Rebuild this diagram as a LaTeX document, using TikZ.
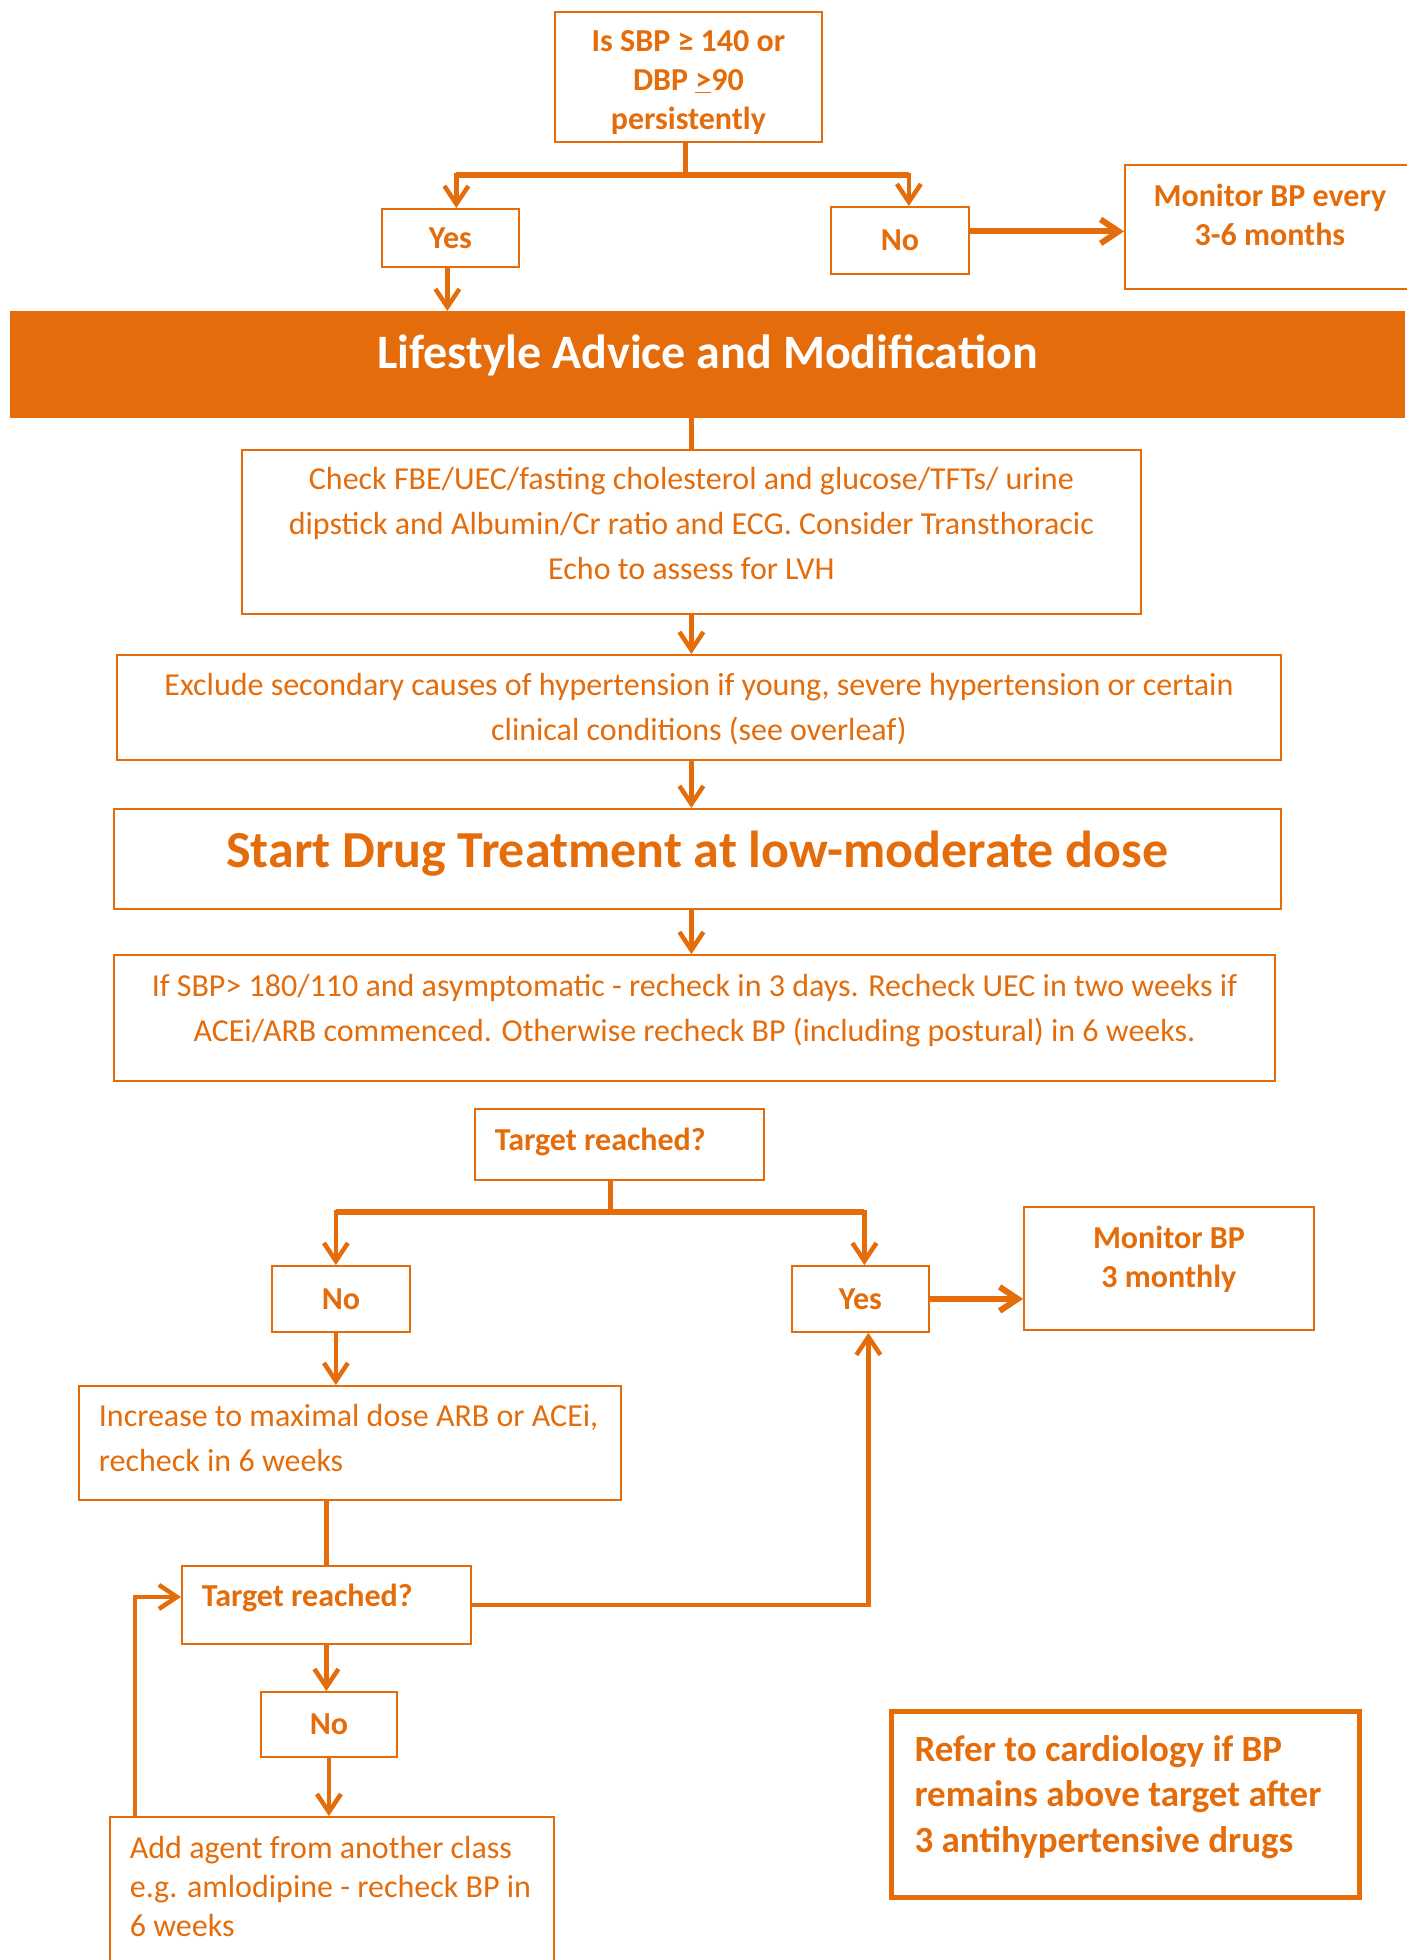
\documentclass[tikz,border=0pt]{standalone}
\usepackage{fontspec}
\setmainfont{Carlito}
\usetikzlibrary{arrows.meta}
\definecolor{flow}{HTML}{E46C0A}

\begin{document}
\begin{tikzpicture}[x=1pt,y=-1pt,
    box/.style={draw=flow, line width=1.8pt, text=flow, inner sep=0pt, anchor=north west,
      align=flush center, font=\fontsize{32}{45}\selectfont},
    tag/.style={box, font=\bfseries\fontsize{32}{39}\selectfont},
    note/.style={box, align=flush left, inner xsep=20pt},
    lift/.style={text height=0pt, text depth=#1},
    drop/.style={text height=#1, text depth=0pt},
    flowline/.style={draw=flow, line width=4.5pt},
    forkline/.style={flowline, line width=6pt},
    flowarrow/.style={flowline, -{Straight Barb[length=18pt,width=24pt]}},
    thickarrow/.style={flowarrow, line width=6pt}]
    \useasboundingbox (0,0) rectangle (1406,1960);
    % Screening question
    \node[tag, text width=267pt, minimum height=130pt, lift=50pt] (query) at (554,11)
        {Is SBP ≥ 140 or\\DBP \underline{>}90\\persistently};
    \node[tag, minimum width=137pt, minimum height=58pt] (yes1) at (381,208) {Yes};
    \node[tag, minimum width=138pt, minimum height=67pt] (no1) at (830,206) {No};
    \node[tag, text width=290pt, minimum height=124pt, lift=40pt] (monitor1) at (1124,164)
        {Monitor BP every\\3-6 months};
    % Lifestyle banner
    \node[box, fill=flow, text=white, font=\bfseries\fontsize{48}{58}\selectfont,
        minimum width=1393pt, minimum height=105pt, drop=9pt] (lifestyle) at (10,311)
        {Lifestyle Advice and Modification};
    % Work-up and treatment
    \node[box, text width=899pt, minimum height=164pt, lift=84pt] (checks) at (241,449)
        {Check FBE/UEC/fasting cholesterol and glucose/TFTs/ urine\\dipstick and Albumin/Cr ratio and ECG. Consider Transthoracic\\Echo to assess for LVH};
    \node[box, text width=1164pt, minimum height=105pt, lift=23pt] (exclude) at (116,654)
        {Exclude secondary causes of hypertension if young, severe hypertension or certain\\clinical conditions (see overleaf)};
    \node[box, font=\bfseries\fontsize{52}{62}\selectfont, minimum width=1167pt,
        minimum height=100pt, drop=18pt] (start) at (113,808) {Start Drug Treatment at low-moderate dose};
    \node[box, text width=1161pt, minimum height=126pt, lift=42pt] (recheck) at (113,954)
        {If SBP> 180/110 and asymptomatic - recheck in 3 days. Recheck UEC in two weeks if\\ACEi/ARB commenced. Otherwise recheck BP (including postural) in 6 weeks.};
    % Follow-up
    \node[tag, align=flush left, inner xsep=20pt, text width=249pt, minimum height=71pt,
        drop=13pt] (target1) at (474,1108) {Target reached?};
    \node[tag, minimum width=138pt, minimum height=66pt] (no2) at (271,1265) {No};
    \node[tag, minimum width=137pt, minimum height=66pt] (yes2) at (791,1265) {Yes};
    \node[tag, text width=290pt, minimum height=123pt, lift=40pt] (monitor2) at (1023,1206)
        {Monitor BP\\3 monthly};
    \node[note, text width=502pt, minimum height=114pt, lift=32pt] (increase) at (78,1385)
        {\mbox{Increase to maximal dose ARB or ACEi,}\\\mbox{recheck in 6 weeks}};
    \node[tag, align=flush left, inner xsep=20pt, text width=249pt, minimum height=78pt,
        drop=4pt] (target2) at (181,1565) {Target reached?};
    \node[tag, minimum width=136pt, minimum height=65pt] (no3) at (260,1691) {No};
    \node[note, font=\fontsize{32}{39}\selectfont, text width=404pt, minimum height=160pt,
        lift=77pt] (addagent) at (109,1816)
        {\mbox{Add agent from another class}\\\mbox{e.g. amlodipine - recheck BP in}\\\mbox{6 weeks}};
    \node[note, line width=5pt, font=\bfseries\fontsize{37}{45.6}\selectfont, inner xsep=23pt,
        text width=422pt, minimum height=186pt, lift=87pt] (refer) at (889,1709)
        {\mbox{Refer to cardiology if BP}\\\mbox{remains above target after}\\\mbox{3 antihypertensive drugs}};

    % Connectors, top half
    \path ([xshift=-3pt]query.south) ++(0,32) coordinate (fork1);
    \path ([xshift=6pt]yes1.north) coordinate (y1n) ([xshift=9pt]no1.north) coordinate (n1n);
    \draw[flowline] ([xshift=-3pt]query.south) -- (fork1);
    \draw[flowarrow] (fork1) -| (y1n);
    \draw[flowarrow] (fork1) -| (n1n);
    \draw[forkline] (fork1 -| y1n) -- (fork1 -| n1n);
    \draw[flowarrow] ([xshift=-3pt]yes1.south) -- ([xshift=-3pt]yes1.south |- lifestyle.north);
    \path ([yshift=9pt]no1.east) coordinate (n1e);
    \draw[thickarrow] (n1e) -- (n1e -| monitor1.west);
    \draw[flowline] (checks.north |- lifestyle.south) -- (checks.north);
    \draw[flowarrow] (checks.south) -- (checks.south |- exclude.north);
    \draw[flowarrow] (checks.south |- exclude.south) -- (checks.south |- start.north);
    \draw[flowarrow] (checks.south |- start.south) -- (checks.south |- recheck.north);

    % Connectors, bottom half
    \path ([xshift=-9pt]target1.south) ++(0,31) coordinate (fork2);
    \path ([xshift=-5pt]no2.north) coordinate (n2n) ([xshift=4pt]yes2.north) coordinate (y2n);
    \draw[flowline] ([xshift=-9pt]target1.south) -- (fork2);
    \draw[flowarrow] (fork2) -| (n2n);
    \draw[flowarrow] (fork2) -| (y2n);
    \draw[forkline] (fork2 -| n2n) -- (fork2 -| y2n);
    \draw[thickarrow] (yes2.east) -- (yes2.east -| monitor2.west);
    \draw[flowarrow] ([xshift=-5pt]no2.south) -- ([xshift=-5pt]no2.south |- increase.north);
    \draw[flowline] (target2.north |- increase.south) -- (target2.north);
    \draw[flowarrow] (target2.east) -| ([xshift=8pt]yes2.south);
    \draw[flowarrow] (target2.south) -- (target2.south |- no3.north);
    \draw[flowarrow] (no3.south) -- (no3.south |- addagent.north);
    \draw[flowarrow] ([xshift=26pt]addagent.north west) |- ([yshift=8pt]target2.west);
\end{tikzpicture}
\end{document}
